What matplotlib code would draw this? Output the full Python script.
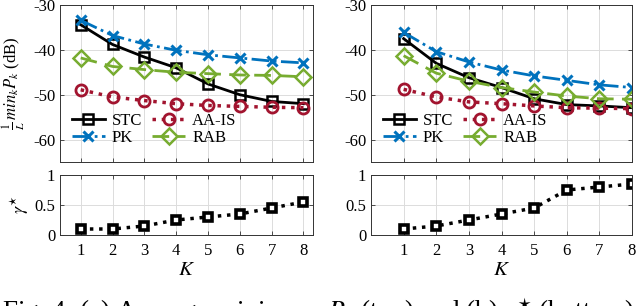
import matplotlib
matplotlib.use("Agg")
import matplotlib.pyplot as plt
import numpy as np

plt.rcParams['font.family'] = ['Liberation Serif', 'DejaVu Serif']
plt.rcParams['mathtext.fontset'] = 'stix'

K = [1, 2, 3, 4, 5, 6, 7, 8]

# (a) left panel
stc_a = [-34.4, -38.8, -41.6, -44.0, -47.6, -50.0, -51.5, -52.0]
pk_a = [-33.4, -36.8, -38.7, -40.1, -41.1, -41.8, -42.5, -42.9]
rab_a = [-41.8, -43.7, -44.4, -45.0, -45.3, -45.6, -45.7, -46.0]
aais_a = [-48.9, -50.5, -51.3, -52.0, -52.4, -52.6, -52.8, -52.9]
gamma_a = [0.1, 0.1, 0.15, 0.25, 0.3, 0.35, 0.45, 0.55]

# (b) right panel
stc_b = [-37.5, -43.0, -46.2, -48.4, -50.9, -52.2, -52.5, -52.9]
pk_b = [-36.1, -40.4, -42.7, -44.5, -45.8, -46.8, -47.8, -48.4]
rab_b = [-41.3, -45.2, -47.0, -48.4, -49.4, -50.3, -50.9, -51.0]
aais_b = [-48.8, -50.5, -51.6, -52.0, -52.5, -52.9, -53.0, -53.1]
gamma_b = [0.1, 0.15, 0.25, 0.35, 0.45, 0.75, 0.8, 0.85]

W, H = 640, 306
fig = plt.figure(figsize=(6.4, 3.06), dpi=100)

def rect(x0, x1, y0, y1):
    return [x0 / W, (H - y1) / H, (x1 - x0) / W, (y1 - y0) / H]

ax_a = fig.add_axes(rect(60, 313, 5, 162))
ax_b = fig.add_axes(rect(371, 632, 5, 162))
bx_a = fig.add_axes(rect(60, 313, 175, 235))
bx_b = fig.add_axes(rect(371, 632, 175, 235))

c_stc = 'black'
c_pk = '#0072BD'
c_rab = '#77AC30'
c_aa = '#A2142F'

def style(ax):
    ax.grid(True, color='#dcdcdc', lw=0.7)
    ax.set_axisbelow(True)
    ax.tick_params(direction='in', top=True, right=True, length=3,
                   labelsize=12, width=0.6, color='#333333')
    for s in ax.spines.values():
        s.set_color('#333333')
        s.set_linewidth(0.7)

def top_panel(ax, stc, pk, rab, aais, xlim, ylabel):
    ax.plot(K, stc, '-', color=c_stc, lw=2.0, marker='s', ms=7, mfc='none', mew=1.8, label='STC')
    ax.plot(K, pk, '-.', color=c_pk, lw=2.0, marker='x', ms=7, mew=2.2, label='PK')
    ax.plot(K, aais, ':', color=c_aa, lw=2.5, marker='o', ms=8, mfc='none', mew=2.0, label='AA-IS')
    ax.plot(K, rab, '--', color=c_rab, lw=2.0, marker='D', ms=8, mfc='none', mew=1.8,
            dashes=(6, 3), label='RAB')
    ax.set_xlim(*xlim)
    ax.set_ylim(-65, -30)
    ax.set_yticks([-60, -50, -40, -30])
    ax.set_yticklabels(['-60', '-50', '-40', '-30'])
    ax.set_xticks(K)
    ax.set_xticklabels([])
    style(ax)
    if ylabel:
        ax.set_ylabel(r'$\frac{1}{L}\,min_k P_k$ (dB)', fontsize=12, labelpad=4)
    ax.legend(ncol=2, loc='lower left', bbox_to_anchor=(0.0, 0.03), frameon=False,
              fontsize=12, handlelength=2.0, columnspacing=0.6, handletextpad=0.4,
              labelspacing=0.05, borderpad=0.2)

def bottom_panel(ax, gamma, xlim, ylabel):
    ax.plot(K, gamma, ':', color='black', lw=2.5, marker='s', ms=6, mfc='white', mec='black', mew=2.6)
    ax.set_xlim(*xlim)
    ax.set_ylim(0, 1)
    ax.set_yticks([0, 0.5, 1])
    ax.set_yticklabels(['0', '0.5', '1'])
    ax.set_xticks(K)
    ax.set_xticklabels([str(k) for k in K])
    style(ax)
    ax.tick_params(axis='x', pad=6)
    ax.set_xlabel(r'$K$', fontsize=15, labelpad=1)
    if ylabel:
        ax.set_ylabel(r'$\gamma^{\star}$', fontsize=13, labelpad=2)

top_panel(ax_a, stc_a, pk_a, rab_a, aais_a, (0.35, 8.3), True)
top_panel(ax_b, stc_b, pk_b, rab_b, aais_b, (0, 8), False)
bottom_panel(bx_a, gamma_a, (0.35, 8.3), True)
bottom_panel(bx_b, gamma_b, (0, 8), False)

fig.text(0.003, (H - 297) / H, r'Fig. 4: (a) Average minimum $P_k$ (top) and (b) $\gamma^{\star}$ (bottom)',
         fontsize=19.5, va='top', ha='left')

fig.savefig('out.png', dpi=100)
